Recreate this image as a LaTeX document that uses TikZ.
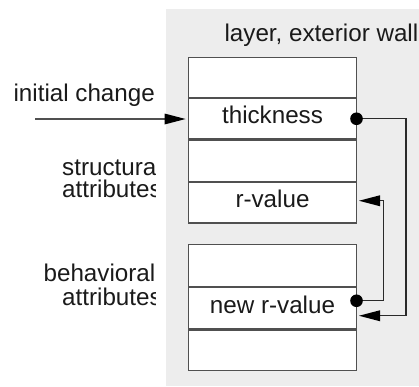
\documentclass[tikz,border=0pt]{standalone}
\usepackage{fontspec}
\setmainfont{Liberation Sans}
\usetikzlibrary{arrows.meta,calc}
\definecolor{panel}{HTML}{EDEDED}
\definecolor{frame}{HTML}{505050}
\definecolor{ink}{HTML}{1A1A1A}
\definecolor{wirec}{HTML}{2A2A2A}
\newcommand\lbl{\fontsize{24.2}{29}\selectfont}
\begin{document}
\begin{tikzpicture}[x=1pt,y=-1pt,
  slot/.style={draw=frame,line width=1.5pt,fill=white,minimum width=168pt,
    inner sep=0pt,outer sep=0pt,anchor=north west,font=\lbl,text=ink,
    text height=17.5pt,text depth=7.5pt},
  caption/.style={font=\lbl,text=ink,inner sep=0pt,anchor=base west},
  tipx/.style={-{Triangle[length=21pt,width=11pt,fill=black,line width=0pt]}},
  wire/.style={draw=wirec,line width=1.3pt,tipx,shorten >=2.5pt},
  feed/.style={draw=frame,line width=1.5pt,tipx,shorten >=3pt},
  dot/.style={fill=black}]
\useasboundingbox (0,0) rectangle (419,386);
% grey panel of the object
\fill[panel] (165.7,9) rectangle (419,386);
\node[caption] (title) at (224.4,41.7) {layer, exterior wall};

% attribute slots
\node[slot,minimum height=40pt]   (s1)    at (188.5,57.5)  {};
\node[slot,minimum height=40.5pt] (thick) at (188.5,98.5)  {thickness};
\node[slot,minimum height=42pt]   (s3)    at (188.5,140)   {};
\node[slot,minimum height=40.5pt] (rval)  at (188.5,182.5) {r-value};
\node[slot,minimum height=42pt]   (s5)    at (188.5,244.5) {};
\node[slot,minimum height=41.5pt] (newr)  at (188.5,287.5) {new r-value};
\node[slot,minimum height=40.5pt] (s7)    at (188.5,330)   {};

% left-hand labels (cut off at the panel side)
\node[caption] (init) at (13.4,101.7) {initial change};
\begin{scope}
  \clip (0,0) rectangle (155.5,386);
  \node[caption] (struct) at (62,175)   {structura};
  \node[caption] (sattr)  at (62,197.3) {attributes};
  \node[caption] (behav)  at (43.4,281.7) {behavioral};
  \node[caption] (battr)  at (62,305)   {attributes};
\end{scope}

% initial change enters the thickness slot
\coordinate (start) at (35,119);
\draw[feed] (start) -- (start -| thick.west);

% propagation of the change
\coordinate (d1) at (thick.east);
\coordinate (d2) at ($(newr.east)+(0,-7.5)$);
\draw[wire] (d1) -- ++(49.5,0) |- ($(newr.east)+(0,7.5)$);
\draw[wire] (d2) -- ++(27,0) |- ($(rval.east)+(0,-2)$);
\fill[dot] (d1) circle[radius=6.3pt];
\fill[dot] (d2) circle[radius=6.3pt];
\end{tikzpicture}
\end{document}
